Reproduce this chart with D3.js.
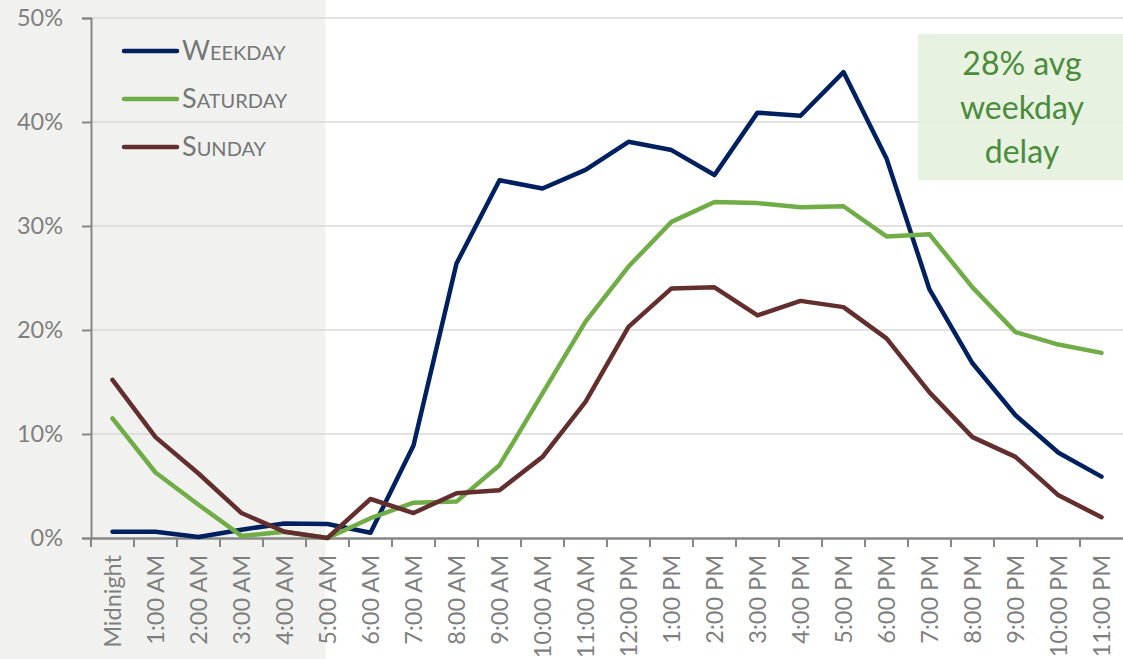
<!DOCTYPE html>
<html>
<head>
<meta charset="utf-8">
<script src="https://cdn.jsdelivr.net/npm/d3@7"></script>
<style>
	body { margin: 0; background: #fff; }
	svg { display: block; font-family: Lato, "Open Sans", sans-serif; }
</style>
</head>
<body>
<div class="chart"></div>
<script>
var hours = ["Midnight", "1:00 AM", "2:00 AM", "3:00 AM", "4:00 AM", "5:00 AM", "6:00 AM",
	"7:00 AM", "8:00 AM", "9:00 AM", "10:00 AM", "11:00 AM", "12:00 PM", "1:00 PM",
	"2:00 PM", "3:00 PM", "4:00 PM", "5:00 PM", "6:00 PM", "7:00 PM", "8:00 PM",
	"9:00 PM", "10:00 PM", "11:00 PM"];

// delay in percent
var weekday = [0.6, 0.6, 0.1, 0.8, 1.4, 1.35, 0.5, 8.9, 26.4, 34.4, 33.6, 35.4,
	38.1, 37.3, 34.9, 40.9, 40.6, 44.8, 36.5, 23.9, 16.8, 11.8, 8.2, 5.9];
var saturday = [11.5, 6.3, 3.2, 0.2, 0.6, 0.0, 1.9, 3.4, 3.5, 7.0, 13.9, 20.8,
	26.1, 30.4, 32.3, 32.2, 31.8, 31.9, 29.0, 29.2, 24.1, 19.8, 18.6, 17.8];
var sunday = [15.2, 9.7, 6.2, 2.4, 0.6, 0.0, 3.75, 2.4, 4.3, 4.6, 7.8, 13.1,
	20.3, 24.0, 24.1, 21.4, 22.8, 22.2, 19.2, 14.0, 9.7, 7.8, 4.1, 2.0];

var seriesNames = ["Weekday", "Saturday", "Sunday"];
var seriesColors = ["#002060", "#70ad47", "#632e2e"];
var yTicks = [0, 10, 20, 30, 40, 50];
var noteLines = ["28% avg", "weekday", "delay"];

var width = 1123;
var height = 659;

var svg = d3.select(".chart")
	.append("svg")
	.attr("width", width)
	.attr("height", height);

var x = d3.scaleBand()
	.domain(hours)
	.range([91, 1123]);

var y = d3.scaleLinear()
	.domain([0, 50])
	.range([538, 18]);

function cx(d) { return x(d) + x.bandwidth() / 2; }

// night shading
svg.append("rect")
	.attr("x", 0)
	.attr("y", 0)
	.attr("width", cx("5:00 AM") - 2)
	.attr("height", height)
	.attr("fill", "#f1f2f0");

// gridlines
svg.append("g")
	.selectAll("line")
	.data(yTicks.slice(1))
	.enter()
	.append("line")
	.attr("x1", 91)
	.attr("x2", width)
	.attr("y1", function(d) { return y(d); })
	.attr("y2", function(d) { return y(d); })
	.attr("stroke", "#d9d9d9")
	.attr("stroke-width", 1.5);

// note box
var note = svg.append("g");
note.append("rect")
	.attr("x", 918)
	.attr("y", 34)
	.attr("width", width - 918)
	.attr("height", 146)
	.attr("fill", "#e3f0dc")
	.attr("opacity", 0.85);
note.selectAll("text")
	.data(noteLines)
	.enter()
	.append("text")
	.attr("x", 1022)
	.attr("y", function(d, i) { return 75 + i * 44; })
	.attr("text-anchor", "middle")
	.attr("fill", "#4a8c3b")
	.style("font-size", "32px")
	.text(function(d) { return d; });

// y axis
var yAxis = svg.append("g")
	.attr("transform", "translate(91,0)")
	.call(d3.axisLeft(y)
		.tickValues(yTicks)
		.tickSize(9)
		.tickPadding(19)
		.tickFormat(function(d) { return d + "%"; }));
yAxis.select(".domain").attr("stroke", "#878787").attr("stroke-width", 2);
yAxis.selectAll(".tick line").attr("stroke", "#878787").attr("stroke-width", 2);
yAxis.selectAll(".tick text")
	.attr("fill", "#7f7f7f")
	.style("font-size", "23.5px")
	.style("font-family", "Lato, sans-serif");

// x axis, ticks between categories
var xAxis = svg.append("g")
	.attr("transform", "translate(0,538)")
	.call(d3.axisBottom(x).tickSize(0).tickSizeOuter(0));
xAxis.select(".domain").attr("stroke", "#878787").attr("stroke-width", 2.5);
xAxis.selectAll(".tick text")
	.attr("transform", "rotate(-90)")
	.attr("x", -17)
	.attr("y", 0)
	.attr("dy", "0.36em")
	.attr("text-anchor", "end")
	.attr("fill", "#7f7f7f")
	.style("font-size", "23.5px")
	.style("font-family", "Lato, sans-serif");
xAxis.append("g")
	.selectAll("line")
	.data(hours)
	.enter()
	.append("line")
	.attr("x1", function(d) { return x(d); })
	.attr("x2", function(d) { return x(d); })
	.attr("y1", 0)
	.attr("y2", 9)
	.attr("stroke", "#878787")
	.attr("stroke-width", 2);

// lines
var line = d3.line()
	.x(function(d, i) { return cx(hours[i]); })
	.y(function(d) { return y(d); });

var allSeries = [weekday, saturday, sunday];
svg.append("g")
	.selectAll("path")
	.data(allSeries)
	.enter()
	.append("path")
	.attr("d", line)
	.attr("fill", "none")
	.attr("stroke", function(d, i) { return seriesColors[i]; })
	.attr("stroke-width", 4.5)
	.attr("stroke-linejoin", "round")
	.attr("stroke-linecap", "round");

// legend
var legend = svg.append("g")
	.selectAll("g")
	.data(seriesNames)
	.enter()
	.append("g")
	.attr("transform", function(d, i) { return "translate(0," + (51 + i * 48) + ")"; });
legend.append("line")
	.attr("x1", 124)
	.attr("x2", 177)
	.attr("stroke", function(d, i) { return seriesColors[i]; })
	.attr("stroke-width", 4.5)
	.attr("stroke-linecap", "round");
var legendText = legend.append("text")
	.attr("x", 182)
	.attr("y", 9)
	.attr("fill", "#767676");
legendText.append("tspan")
	.style("font-size", "27px")
	.text(function(d) { return d.charAt(0); });
legendText.append("tspan")
	.style("font-size", "20px")
	.text(function(d) { return d.slice(1).toUpperCase(); });
</script>
</body>
</html>
